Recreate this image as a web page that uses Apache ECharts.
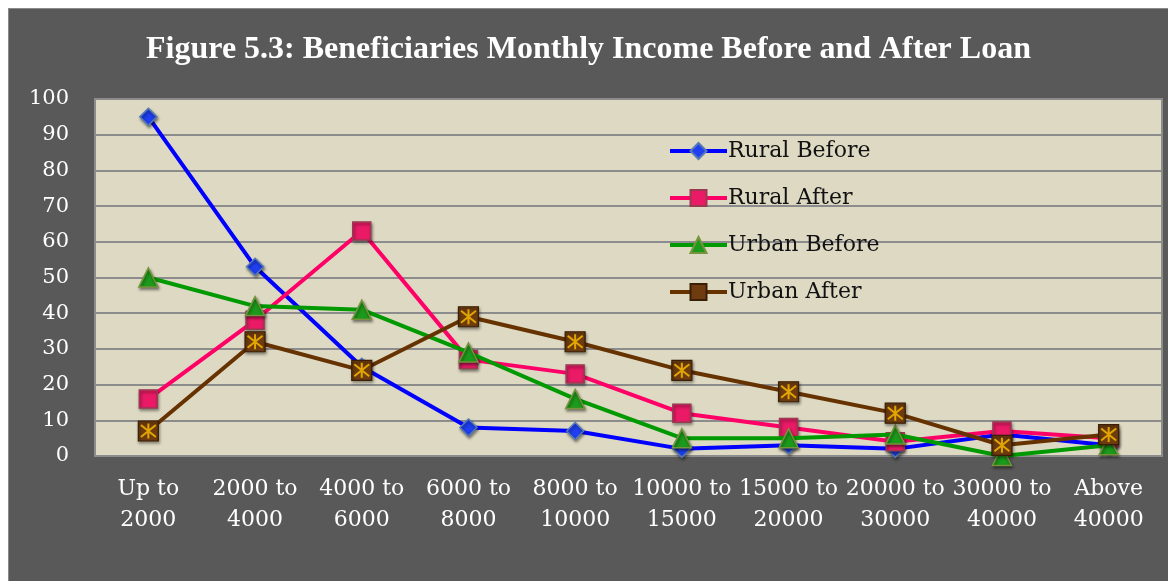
<!DOCTYPE html>
<html>
<head>
<meta charset="utf-8">
<script src="https://cdn.jsdelivr.net/npm/echarts@6/dist/echarts.min.js"></script>
<style>
html,body{margin:0;padding:0;background:#ffffff;width:1168px;height:581px;overflow:hidden;}
#chart{position:absolute;left:8px;top:8px;width:1160px;height:573px;box-sizing:border-box;border-left:1px solid #8a8a8a;border-top:1px solid #8a8a8a;background:#595959;}
</style>
</head>
<body>
<div id="chart"></div>
<script>
const titleText = 'Figure 5.3: Beneficiaries Monthly Income Before and After Loan';
const categories = ['Up to\n2000','2000 to\n4000','4000 to\n6000','6000 to\n8000','8000 to\n10000','10000 to\n15000','15000 to\n20000','20000 to\n30000','30000 to\n40000','Above\n40000'];
const yTicks = [0,10,20,30,40,50,60,70,80,90,100];
const ruralBefore = [95, 53, 25, 8, 7, 2, 3, 2, 6, 3];
const ruralAfter  = [16, 38, 63, 27, 23, 12, 8, 4, 7, 5];
const urbanBefore = [50, 42, 41, 29, 16, 5, 5, 6, 0, 3];
const urbanAfter  = [7, 32, 24, 39, 32, 24, 18, 12, 3, 6];

const serif = '"DejaVu Serif", serif';
const shadow = {shadowBlur: 3, shadowColor: 'rgba(0,0,0,0.45)', shadowOffsetX: 1, shadowOffsetY: 2};

const chart = echarts.init(document.getElementById('chart'), null, {renderer: 'canvas'});
chart.setOption({
  backgroundColor: '#595959',
  animation: false,
  title: {
    text: titleText, left: 'center', top: 20,
    textStyle: {color: '#ffffff', fontFamily: '"Liberation Serif", "Times New Roman", serif', fontWeight: 'bold', fontSize: 32}
  },
  grid: {left: 86, top: 90, right: 6, bottom: 125, show: true, backgroundColor: '#ddd9c3', borderColor: '#8c8c8c', borderWidth: 2},
  legend: {
    orient: 'vertical', left: 654, top: 126,
    itemWidth: 57, itemHeight: 20, itemGap: 25,
    data: ['Rural Before','Rural After','Urban Before','Urban After'],
    lineStyle: {width: 4},
    textStyle: {color: '#111111', fontFamily: serif, fontSize: 22, padding: [0,0,0,-4]}
  },
  xAxis: {
    type: 'category', data: categories, boundaryGap: true,
    axisLine: {show: false}, axisTick: {show: false},
    axisLabel: {interval: 0, color: '#ffffff', fontFamily: serif, fontSize: 22, lineHeight: 31, margin: 18}
  },
  yAxis: {
    type: 'value', min: yTicks[0], max: yTicks[yTicks.length-1], interval: yTicks[1]-yTicks[0],
    axisLine: {show: false}, axisTick: {show: false},
    axisLabel: {color: '#ffffff', fontFamily: serif, fontSize: 21, margin: 26},
    splitLine: {lineStyle: {color: '#8c8c8c', width: 2}}
  },
  series: [
    {name: 'Rural Before', type: 'line', data: ruralBefore, symbol: 'diamond', symbolSize: 17,
     lineStyle: {color: '#0000ff', width: 4},
     itemStyle: Object.assign({color: '#1f3ff0', borderColor: '#5579b5', borderWidth: 1.5}, shadow), z: 2},
    {name: 'Rural After', type: 'line', data: ruralAfter, symbol: 'rect', symbolSize: 18,
     lineStyle: {color: '#ff0066', width: 4},
     itemStyle: Object.assign({color: '#ea1a66', borderColor: '#9a3a50', borderWidth: 1.5}, shadow), z: 3},
    {name: 'Urban Before', type: 'line', data: urbanBefore, symbol: 'triangle', symbolSize: 19,
     lineStyle: {color: '#009900', width: 4},
     itemStyle: Object.assign({color: '#1c9a1c', borderColor: '#77933c', borderWidth: 1.5}, shadow), z: 4},
    {name: 'Urban After', type: 'line', data: urbanAfter, symbol: 'rect', symbolSize: 20,
     lineStyle: {color: '#663300', width: 4},
     itemStyle: Object.assign({color: '#6e3c0e', borderColor: '#3a1e05', borderWidth: 1.2}, shadow), z: 5},
    {name: 'Urban After marks', type: 'scatter', data: urbanAfter, silent: true, z: 6,
     symbol: 'path://M5 0 L5 10 M1 1 L9 9 M9 1 L1 9', symbolSize: 15,
     itemStyle: {color: 'transparent', borderColor: '#ffc000', borderWidth: 2}}
  ]
});
</script>
</body>
</html>
